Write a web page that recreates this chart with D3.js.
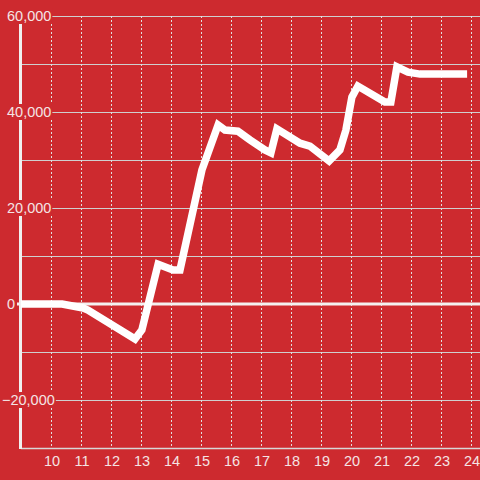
<!DOCTYPE html>
<html>
<head>
<meta charset="utf-8">
<script src="https://cdn.jsdelivr.net/npm/d3@7"></script>
<style>
  html, body { margin: 0; padding: 0; background: #cd2a2f; }
  svg { display: block; }
  text { font-family: "Liberation Sans", Arial, sans-serif; fill: #f4e4e4; }
</style>
</head>
<body>
<svg id="chart" width="480" height="480"></svg>
<script>
// hour of day and running total
var hours  = [9, 10.37, 11.07, 11.23, 12.8, 13.03, 13.57, 14.07, 14.3, 15.03, 15.57, 15.8, 16.23, 16.63, 17.13, 17.33, 17.53, 18.3, 18.63, 19.27, 19.63, 19.83, 20.03, 20.23, 21.13, 21.33, 21.53, 21.9, 22.3, 23.87];
var values = [0, 0, -830, -1250, -7300, -5400, 8300, 7100, 7100, 27900, 37300, 36250, 36000, 34200, 32100, 31500, 36500, 33500, 32900, 29800, 32100, 36250, 43100, 45400, 42100, 42100, 49400, 48300, 47900, 47900];
var xTicks = [10, 11, 12, 13, 14, 15, 16, 17, 18, 19, 20, 21, 22, 23, 24];
var yGrid  = [60000, 50000, 40000, 30000, 20000, 10000, 0, -10000, -20000, -30000];
var yLabels = [60000, 40000, 20000, 0, -20000];

var svg = d3.select("#chart");
var width = 480, height = 480;
var padLeft = 21, padTop = 16, padBottom = 448;

var x = d3.scaleLinear().domain([9, 9 + (width - padLeft) / 30]).range([padLeft, width]);
var y = d3.scaleLinear().domain([-30000, 60000]).range([padBottom, padTop]);
var fmt = d3.format(",");

// horizontal grid
svg.selectAll("line.hgrid").data(yGrid).enter().append("line")
  .attr("class", "hgrid")
  .attr("x1", padLeft).attr("x2", width)
  .attr("y1", function(d) { return Math.round(y(d)) + 0.5; })
  .attr("y2", function(d) { return Math.round(y(d)) + 0.5; })
  .style("stroke", "#cfcfcf").style("stroke-width", 1);

// vertical dotted grid
svg.selectAll("line.vgrid").data(xTicks).enter().append("line")
  .attr("class", "vgrid")
  .attr("x1", function(d) { return Math.round(x(d)) + 0.5; })
  .attr("x2", function(d) { return Math.round(x(d)) + 0.5; })
  .attr("y1", padTop).attr("y2", padBottom)
  .style("stroke", "#e0e0e0").style("stroke-width", 1)
  .style("stroke-dasharray", "2,2");

// x axis line
svg.append("line")
  .attr("x1", padLeft).attr("x2", width)
  .attr("y1", padBottom + 0.5).attr("y2", padBottom + 0.5)
  .style("stroke", "#d8d8d8").style("stroke-width", 1.5);

// y axis line
svg.append("line")
  .attr("x1", padLeft - 0.5).attr("x2", padLeft - 0.5)
  .attr("y1", padTop).attr("y2", padBottom + 1)
  .style("stroke", "#f0f0f0").style("stroke-width", 3);

// y labels on a red patch so they cut the axis and grid
var ylab = svg.selectAll("g.ylab").data(yLabels).enter().append("g")
  .attr("class", "ylab")
  .attr("transform", function(d) { return "translate(" + (d < 0 ? 2 : 7) + "," + y(d) + ")"; });
ylab.append("text")
  .attr("text-anchor", "start")
  .attr("dy", "0.36em")
  .style("font-size", "14.5px")
  .text(function(d) { return fmt(d); });
ylab.each(function() {
  var g = d3.select(this);
  var bb = g.select("text").node().getBBox();
  g.insert("rect", "text")
    .attr("x", bb.x - 1).attr("y", -8)
    .attr("width", bb.width + 2).attr("height", 16)
    .style("fill", "#cd2a2f");
});

// zero line
svg.append("line")
  .attr("x1", 17).attr("x2", width)
  .attr("y1", y(0)).attr("y2", y(0))
  .style("stroke", "#f4f0f0").style("stroke-width", 3);

// x labels
svg.selectAll("text.xlab").data(xTicks).enter().append("text")
  .attr("class", "xlab")
  .attr("x", function(d) { return x(d) + 1; })
  .attr("y", 466)
  .attr("text-anchor", "middle")
  .style("font-size", "14.5px")
  .text(function(d) { return d; });

// the line
var line = d3.line()
  .x(function(d, i) { return x(hours[i]); })
  .y(function(d) { return y(d); });
svg.append("path")
  .datum(values)
  .attr("d", line)
  .style("fill", "none")
  .style("stroke", "#ffffff")
  .style("stroke-width", 7.5)
  .style("stroke-linejoin", "miter");
</script>
</body>
</html>
